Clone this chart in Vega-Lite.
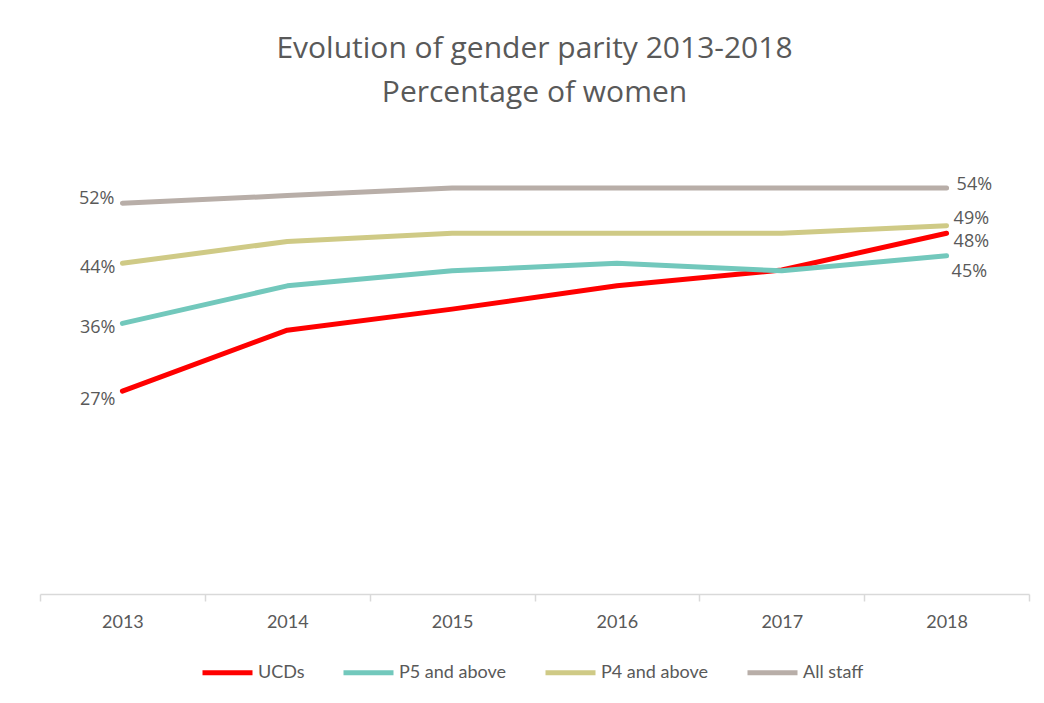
{
  "$schema": "https://vega.github.io/schema/vega-lite/v6.json",
  "autosize": {"type": "none"},
  "padding": {"left": 40, "top": 143, "right": 15, "bottom": 109},
  "width": 989,
  "height": 451,
  "background": "white",
  "title": {
    "text": ["Evolution of gender parity 2013-2018", "Percentage of women"],
    "font": "Open Sans",
    "fontSize": 30,
    "fontWeight": "normal",
    "color": "#595959",
    "lineHeight": 44,
    "anchor": "middle",
    "offset": 35
  },
  "data": {
    "values": [
      {"year": "2013", "series": "UCDs", "pct": 0.27},
      {"year": "2014", "series": "UCDs", "pct": 0.351},
      {"year": "2015", "series": "UCDs", "pct": 0.379},
      {"year": "2016", "series": "UCDs", "pct": 0.41},
      {"year": "2017", "series": "UCDs", "pct": 0.431},
      {"year": "2018", "series": "UCDs", "pct": 0.48},
      {"year": "2013", "series": "P5 and above", "pct": 0.36},
      {"year": "2014", "series": "P5 and above", "pct": 0.41},
      {"year": "2015", "series": "P5 and above", "pct": 0.43},
      {"year": "2016", "series": "P5 and above", "pct": 0.44},
      {"year": "2017", "series": "P5 and above", "pct": 0.43},
      {"year": "2018", "series": "P5 and above", "pct": 0.45},
      {"year": "2013", "series": "P4 and above", "pct": 0.44},
      {"year": "2014", "series": "P4 and above", "pct": 0.469},
      {"year": "2015", "series": "P4 and above", "pct": 0.48},
      {"year": "2016", "series": "P4 and above", "pct": 0.48},
      {"year": "2017", "series": "P4 and above", "pct": 0.48},
      {"year": "2018", "series": "P4 and above", "pct": 0.49},
      {"year": "2013", "series": "All staff", "pct": 0.52},
      {"year": "2014", "series": "All staff", "pct": 0.53},
      {"year": "2015", "series": "All staff", "pct": 0.54},
      {"year": "2016", "series": "All staff", "pct": 0.54},
      {"year": "2017", "series": "All staff", "pct": 0.54},
      {"year": "2018", "series": "All staff", "pct": 0.54}
    ]
  },
  "encoding": {
    "x": {
      "field": "year",
      "type": "ordinal",
      "scale": {"paddingInner": 0, "paddingOuter": 0},
      "axis": {
        "title": null,
        "labelAngle": 0,
        "labelFont": "Lato",
        "labelFontSize": 18,
        "labelColor": "#595959",
        "labelPadding": 12,
        "domainColor": "#D9D9D9",
        "domainWidth": 1.5,
        "tickColor": "#D9D9D9",
        "tickWidth": 1.5,
        "tickSize": 7,
        "tickBand": "extent"
      }
    },
    "y": {
      "field": "pct",
      "type": "quantitative",
      "scale": {"domain": [0, 0.6], "nice": false},
      "axis": null
    }
  },
  "layer": [
    {
      "mark": {"type": "line", "strokeWidth": 5, "strokeCap": "round", "strokeJoin": "round"},
      "encoding": {
        "color": {
          "field": "series",
          "type": "nominal",
          "sort": ["UCDs", "P5 and above", "P4 and above", "All staff"],
          "scale": {
            "domain": ["UCDs", "P5 and above", "P4 and above", "All staff"],
            "range": ["#FF0000", "#72C8BC", "#CFCA86", "#B8AEA8"]
          },
          "legend": {
            "title": null,
            "orient": "none",
            "legendX": 160,
            "legendY": 502,
            "direction": "horizontal",
            "symbolType": "stroke",
            "symbolSize": 2500,
            "symbolStrokeWidth": 5,
            "labelFont": "Lato",
            "labelFontSize": 18,
            "labelColor": "#595959",
            "labelOffset": 3,
            "columnPadding": 28
          }
        }
      }
    },
    {
      "transform": [{"filter": "datum.year === '2013' && datum.series === 'All staff'"}],
      "mark": {"type": "text", "align": "right", "baseline": "middle", "dx": -8, "dy": -4, "font": "Open Sans", "fontSize": 18, "fill": "#595959"},
      "encoding": {"text": {"field": "pct", "type": "quantitative", "format": ".0%"}}
    },
    {
      "transform": [{"filter": "datum.year === '2013' && (datum.series === 'P4 and above' || datum.series === 'P5 and above')"}],
      "mark": {"type": "text", "align": "right", "baseline": "middle", "dx": -7, "dy": 5, "font": "Open Sans", "fontSize": 18, "fill": "#595959"},
      "encoding": {"text": {"field": "pct", "type": "quantitative", "format": ".0%"}}
    },
    {
      "transform": [{"filter": "datum.year === '2013' && datum.series === 'UCDs'"}],
      "mark": {"type": "text", "align": "right", "baseline": "middle", "dx": -7, "dy": 9, "font": "Open Sans", "fontSize": 18, "fill": "#595959"},
      "encoding": {"text": {"field": "pct", "type": "quantitative", "format": ".0%"}}
    },
    {
      "transform": [{"filter": "datum.year === '2018' && datum.series === 'All staff'"}],
      "mark": {"type": "text", "align": "left", "baseline": "middle", "dx": 10, "dy": -3, "font": "Open Sans", "fontSize": 18, "fill": "#595959"},
      "encoding": {"text": {"field": "pct", "type": "quantitative", "format": ".0%"}}
    },
    {
      "transform": [{"filter": "datum.year === '2018' && datum.series === 'P4 and above'"}],
      "mark": {"type": "text", "align": "left", "baseline": "middle", "dx": 7, "dy": -7, "font": "Open Sans", "fontSize": 18, "fill": "#595959"},
      "encoding": {"text": {"field": "pct", "type": "quantitative", "format": ".0%"}}
    },
    {
      "transform": [{"filter": "datum.year === '2018' && datum.series === 'UCDs'"}],
      "mark": {"type": "text", "align": "left", "baseline": "middle", "dx": 7, "dy": 9, "font": "Open Sans", "fontSize": 18, "fill": "#595959"},
      "encoding": {"text": {"field": "pct", "type": "quantitative", "format": ".0%"}}
    },
    {
      "transform": [{"filter": "datum.year === '2018' && datum.series === 'P5 and above'"}],
      "mark": {"type": "text", "align": "left", "baseline": "middle", "dx": 5, "dy": 16, "font": "Open Sans", "fontSize": 18, "fill": "#595959"},
      "encoding": {"text": {"field": "pct", "type": "quantitative", "format": ".0%"}}
    }
  ],
  "config": {
    "view": {"stroke": null}
  }
}
